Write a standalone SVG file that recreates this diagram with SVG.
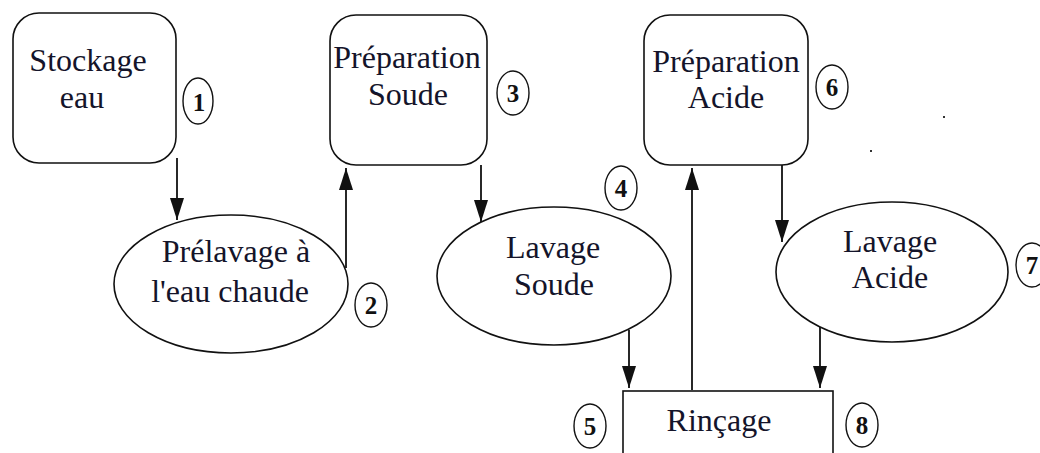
<svg xmlns="http://www.w3.org/2000/svg" width="1040" height="453" viewBox="0 0 1040 453">
  <style>
    .shape { fill: #ffffff; stroke: #111111; stroke-width: 1.6; }
    .label { font-family: "Liberation Serif", "Times New Roman", serif; font-size: 32px; fill: #14142a; text-anchor: middle; }
    .num { font-family: "Liberation Serif", "Times New Roman", serif; font-size: 25px; font-weight: bold; fill: #111111; text-anchor: middle; }
    .tag { fill: none; stroke: #111111; stroke-width: 1.4; }
    .link { stroke: #111111; stroke-width: 1.8; fill: none; marker-end: url(#head); }
  </style>
  <defs>
    <marker id="head" markerUnits="userSpaceOnUse" markerWidth="22" markerHeight="14" refX="22" refY="7" orient="auto">
      <path d="M0,0 L22,7 L0,14 z" fill="#111111"/>
    </marker>
  </defs>
  <rect width="1040" height="453" fill="#ffffff"/>

  <!-- Connectors -->
  <g id="connectors">
    <line class="link" x1="177" y1="158" x2="177" y2="220"/>
    <line class="link" x1="346" y1="268" x2="346" y2="168"/>
    <line class="link" x1="481" y1="165" x2="481" y2="222"/>
    <line class="link" x1="629" y1="330" x2="629" y2="388"/>
    <line class="link" x1="692" y1="390" x2="692" y2="168"/>
    <line class="link" x1="782" y1="165" x2="782" y2="242"/>
    <line class="link" x1="820" y1="327" x2="820" y2="388"/>
  </g>

  <!-- 1: water storage -->
  <g id="stockage-eau">
    <rect class="shape" x="13" y="13" width="163" height="150" rx="26" ry="26"/>
    <text class="label" x="88" y="71">Stockage</text>
    <text class="label" x="82" y="108">eau</text>
    <ellipse class="tag" cx="198" cy="101" rx="15" ry="23"/>
    <text class="num" x="199" y="111">1</text>
  </g>

  <!-- 2: hot water pre-rinse -->
  <g id="prelavage">
    <ellipse class="shape" cx="231" cy="284" rx="117" ry="69"/>
    <text class="label" x="236" y="262">Prélavage à</text>
    <text class="label" x="230" y="302">l'eau chaude</text>
    <ellipse class="tag" cx="371" cy="305" rx="16" ry="22"/>
    <text class="num" x="371" y="314">2</text>
  </g>

  <!-- 3: caustic preparation -->
  <g id="preparation-soude">
    <rect class="shape" x="330" y="15" width="157" height="150" rx="26" ry="26"/>
    <text class="label" x="407" y="68">Préparation</text>
    <text class="label" x="408" y="105">Soude</text>
    <ellipse class="tag" cx="513" cy="93" rx="16" ry="22"/>
    <text class="num" x="513" y="102">3</text>
  </g>

  <!-- 4: caustic wash -->
  <g id="lavage-soude">
    <ellipse class="shape" cx="554" cy="276" rx="117" ry="69"/>
    <text class="label" x="553" y="258">Lavage</text>
    <text class="label" x="554" y="295">Soude</text>
    <ellipse class="tag" cx="621" cy="188" rx="16" ry="22"/>
    <text class="num" x="621" y="197">4</text>
  </g>

  <!-- 5/8: rinse -->
  <g id="rincage">
    <rect class="shape" x="623" y="391" width="210" height="80"/>
    <text class="label" x="719" y="431">Rinçage</text>
    <ellipse class="tag" cx="590" cy="426" rx="16" ry="22"/>
    <text class="num" x="590" y="435">5</text>
    <ellipse class="tag" cx="862" cy="425" rx="16" ry="22"/>
    <text class="num" x="862" y="434">8</text>
  </g>

  <!-- 6: acid preparation -->
  <g id="preparation-acide">
    <rect class="shape" x="644" y="15" width="164" height="150" rx="26" ry="26"/>
    <text class="label" x="726" y="72">Préparation</text>
    <text class="label" x="726" y="108">Acide</text>
    <ellipse class="tag" cx="832" cy="87" rx="16" ry="22"/>
    <text class="num" x="832" y="96">6</text>
  </g>

  <!-- 7: acid wash -->
  <g id="lavage-acide">
    <ellipse class="shape" cx="892" cy="272" rx="116" ry="70"/>
    <text class="label" x="890" y="252">Lavage</text>
    <text class="label" x="890" y="288">Acide</text>
    <ellipse class="tag" cx="1032" cy="265" rx="16" ry="22"/>
    <text class="num" x="1032" y="274">7</text>
  </g>

  <!-- specks -->
  <rect x="943" y="116" width="2" height="2" fill="#333333"/>
  <rect x="870" y="150" width="2" height="2" fill="#333333"/>
</svg>
